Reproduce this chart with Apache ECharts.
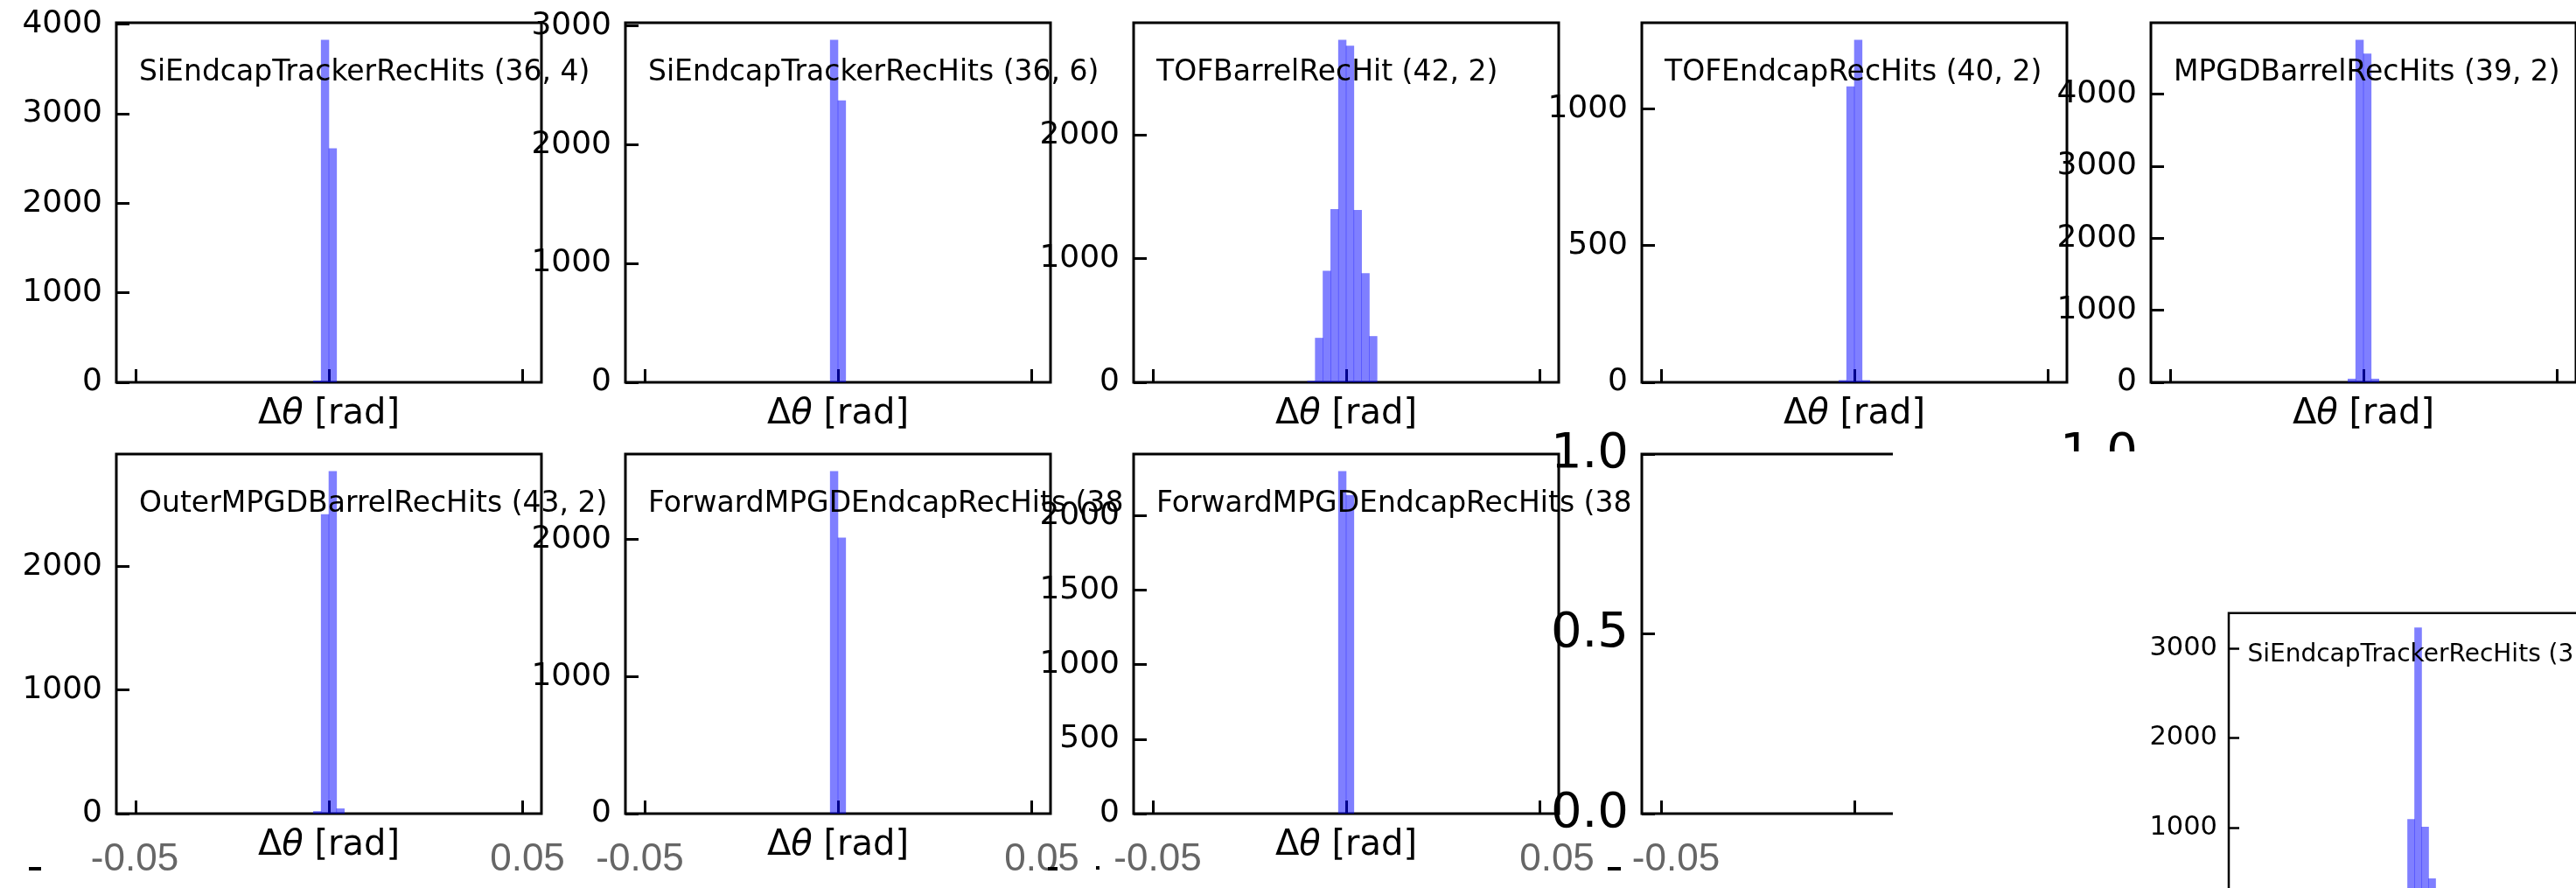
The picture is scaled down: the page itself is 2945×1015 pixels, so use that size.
<!DOCTYPE html>
<html><head><meta charset="utf-8">
<script src="https://cdn.jsdelivr.net/npm/echarts@6/dist/echarts.min.js"></script>
<style>html,body{margin:0;padding:0;background:#fff;} #c{width:2945px;height:1015px;}</style>
</head><body><div id="c"></div>
<script>
// ---------------- DATA ----------------
const BIN_WIDTH = 0.002;                 // histogram bin width [rad]
const X_RANGE = [-0.055, 0.055];          // shared x range
const X_TICKS = [-0.05, 0, 0.05];         // x tick positions
const X_TICK_LABELS = ['-0.05', '0.05'];  // visible (grey) x tick labels
const X_LABEL = '{d|\u0394}{t|\u03b8}{d| [rad]}';

const titles = [
  'SiEndcapTrackerRecHits (36, 4)',
  'SiEndcapTrackerRecHits (36, 6)',
  'TOFBarrelRecHit (42, 2)',
  'TOFEndcapRecHits (40, 2)',
  'MPGDBarrelRecHits (39, 2)',
  'OuterMPGDBarrelRecHits (43, 2)',
  'ForwardMPGDEndcapRecHits (38',
  'ForwardMPGDEndcapRecHits (38',
  'SiEndcapTrackerRecHits (3'
];

// bin left edges and counts per panel
const p1Edges = [-0.004, -0.002, 0.000];
const p1Counts = [20, 3824, 2614];
const p2Edges = [-0.002, 0.000];
const p2Counts = [2881, 2372];
const p3Edges = [-0.010, -0.008, -0.006, -0.004, -0.002, 0.000, 0.002, 0.004, 0.006];
const p3Counts = [12, 360, 903, 1402, 2771, 2724, 1395, 884, 374];
const p4Edges = [-0.004, -0.002, 0.000, 0.002];
const p4Counts = [8, 1082, 1252, 8];
const p5Edges = [-0.004, -0.002, 0.000, 0.002];
const p5Counts = [50, 4753, 4562, 50];
const p6Edges = [-0.004, -0.002, 0.000, 0.002];
const p6Counts = [20, 2422, 2771, 42];
const p7Edges = [-0.002, 0.000];
const p7Counts = [2499, 2015];
const p8Edges = [-0.002, 0.000];
const p8Counts = [2297, 2137];
const insetEdges = [-0.004, -0.002, 0.000, 0.002];
const insetCounts = [1096, 3229, 1010, 435];

// y tick values per panel
const yTicks1 = [0, 1000, 2000, 3000, 4000];
const yTicks2 = [0, 1000, 2000, 3000];
const yTicks3 = [0, 1000, 2000];
const yTicks4 = [0, 500, 1000];
const yTicks5 = [0, 1000, 2000, 3000, 4000];
const yTicks6 = [0, 1000, 2000];
const yTicks7 = [0, 1000, 2000];
const yTicks8 = [0, 500, 1000, 1500, 2000];
const yTicksUnit = [0, 0.5, 1.0];
const yTicksInset = [0, 1000, 2000, 3000];

// ---------------- LAYOUT ----------------
const FONT = 'DejaVu Sans';
const COL_LEFT = [133, 715, 1296, 1877, 2459];
const ROW_TOP = [26, 519];
const PW = 486, PH = 411;

const intFmt = v => String(Math.round(v));
const oneDec = v => v.toFixed(1);

const main = {w: PW, h: PH, bw: 3, tickLen: 15, tickW: 3, labelSize: 36, labelMargin: 16, z: 1,
              titleSize: 33, titleDx: 26, titleDy: 57};
const panels = [
  Object.assign({}, main, {title: titles[0], edges: p1Edges, counts: p1Counts, yTicks: yTicks1, left: COL_LEFT[0], top: ROW_TOP[0], xlabel: true, fmt: intFmt}),
  Object.assign({}, main, {title: titles[1], edges: p2Edges, counts: p2Counts, yTicks: yTicks2, left: COL_LEFT[1], top: ROW_TOP[0], xlabel: true, fmt: intFmt}),
  Object.assign({}, main, {title: titles[2], edges: p3Edges, counts: p3Counts, yTicks: yTicks3, left: COL_LEFT[2], top: ROW_TOP[0], xlabel: true, fmt: intFmt}),
  Object.assign({}, main, {title: titles[3], edges: p4Edges, counts: p4Counts, yTicks: yTicks4, left: COL_LEFT[3], top: ROW_TOP[0], xlabel: true, fmt: intFmt}),
  Object.assign({}, main, {title: titles[4], edges: p5Edges, counts: p5Counts, yTicks: yTicks5, left: COL_LEFT[4], top: ROW_TOP[0], xlabel: true, fmt: intFmt}),
  Object.assign({}, main, {title: titles[5], edges: p6Edges, counts: p6Counts, yTicks: yTicks6, left: COL_LEFT[0], top: ROW_TOP[1], xlabel: true, fmt: intFmt}),
  Object.assign({}, main, {title: titles[6], edges: p7Edges, counts: p7Counts, yTicks: yTicks7, left: COL_LEFT[1], top: ROW_TOP[1], xlabel: true, fmt: intFmt}),
  Object.assign({}, main, {title: titles[7], edges: p8Edges, counts: p8Counts, yTicks: yTicks8, left: COL_LEFT[2], top: ROW_TOP[1], xlabel: true, fmt: intFmt}),
  // empty axes (column 4, row 2)
  Object.assign({}, main, {title: null, edges: [], counts: [], yTicks: yTicksUnit, yMax: 1, left: COL_LEFT[3], top: ROW_TOP[1], xlabel: false, fmt: oneDec, labelSize: 56, labelMargin: 15}),
  // hidden empty axes (column 5, row 2), mostly covered
  Object.assign({}, main, {title: null, edges: [], counts: [], yTicks: yTicksUnit, yMax: 1, left: COL_LEFT[4], top: ROW_TOP[1], xlabel: false, fmt: oneDec, labelSize: 56, labelMargin: 15}),
  // inset (drawn above the white cover)
  {title: titles[8], edges: insetEdges, counts: insetCounts, yTicks: yTicksInset, left: 2548, top: 700.7, w: 441, h: 348,
   bw: 2.5, tickLen: 12, tickW: 2.5, labelSize: 30.5, labelMargin: 13, z: 60, titleSize: 28, titleDx: 21.4, titleDy: 48,
   xlabel: false, fmt: intFmt}
];

function renderBar(params, api) {
  const p0 = api.coord([api.value(0), 0]);
  const p1 = api.coord([api.value(1), api.value(2)]);
  return {
    type: 'rect',
    shape: {x: p0[0] - 0.3, y: p1[1], width: p1[0] - p0[0] + 0.6, height: p0[1] - p1[1]},
    style: {fill: 'rgba(0,0,255,0.5)'}
  };
}

const grids = [], xAxes = [], yAxes = [], series = [], graphics = [];
panels.forEach((p, i) => {
  grids.push({left: p.left, top: p.top, width: p.w, height: p.h, show: true, containLabel: false,
              outerBoundsMode: 'none',
              borderColor: '#000', borderWidth: p.bw, backgroundColor: 'rgba(0,0,0,0)', z: p.z});
  xAxes.push({
    gridIndex: i, type: 'value', min: X_RANGE[0], max: X_RANGE[1], z: p.z, position: 'bottom',
    axisLine: {show: false, onZero: false}, splitLine: {show: false}, axisLabel: {show: false},
    axisTick: {show: true, inside: true, length: p.tickLen, lineStyle: {color: '#000', width: p.tickW}, customValues: X_TICKS},
    name: p.xlabel ? X_LABEL : '', nameLocation: 'middle', nameGap: 17,
    nameTextStyle: {color: '#000', fontSize: 40, fontFamily: FONT,
      rich: {d: {color: '#000', fontSize: 40, fontFamily: FONT},
             t: {color: '#000', fontSize: 40, fontFamily: FONT, fontStyle: 'italic'}}}
  });
  const yMax = p.yMax != null ? p.yMax : Math.max(...p.counts) * 1.05;
  yAxes.push({
    gridIndex: i, type: 'value', min: 0, max: yMax, z: p.z, position: 'left',
    axisLine: {show: false, onZero: false}, splitLine: {show: false},
    axisTick: {show: true, inside: true, length: p.tickLen, lineStyle: {color: '#000', width: p.tickW}, customValues: p.yTicks},
    axisLabel: {show: true, customValues: p.yTicks, formatter: p.fmt, color: '#000',
                fontSize: p.labelSize, fontFamily: FONT, margin: p.labelMargin}
  });
  if (p.counts.length) {
    series.push({
      type: 'custom', xAxisIndex: i, yAxisIndex: i, z: p.z + 1, silent: true, clip: false,
      renderItem: renderBar, encode: {x: [0, 1], y: 2},
      data: p.edges.map((e, k) => [e, e + BIN_WIDTH, p.counts[k]])
    });
  }
  if (p.title) {
    graphics.push({type: 'text', x: p.left + p.titleDx, y: p.top + p.titleDy, z: p.z + 9, silent: true,
      style: {text: p.title, fontSize: p.titleSize, fontFamily: FONT, fill: '#000', align: 'left', verticalAlign: 'middle'}});
  }
});

// white cover hiding the right part of row 2 (under the inset)
graphics.push({type: 'rect', z: 50, silent: true, shape: {x: 2164, y: 516, width: 800, height: 520}, style: {fill: '#fff'}});

// grey tick labels under row 2
const greyPos = [[154, 603], [731.5, 1191], [1323.5, 1780], [1916, null]];
greyPos.forEach(pair => pair.forEach((x, k) => {
  if (x == null) return;
  graphics.push({type: 'text', x: x, y: 983, z: 10, silent: true,
    style: {text: X_TICK_LABELS[k], fontSize: 44, fontFamily: 'Liberation Sans', fill: '#666', align: 'center', verticalAlign: 'middle'}});
}));
// stray dash fragments
[[33, 991, 14], [1198, 991, 11], [1253, 990, 4], [1838, 991, 15]].forEach(d => {
  graphics.push({type: 'rect', z: 10, silent: true, shape: {x: d[0], y: d[1], width: d[2], height: 4}, style: {fill: '#000'}});
});

const chart = echarts.init(document.getElementById('c'), null, {renderer: 'canvas', width: 2945, height: 1015});
chart.setOption({
  animation: false,
  backgroundColor: '#fff',
  grid: grids, xAxis: xAxes, yAxis: yAxes, series: series,
  graphic: {elements: graphics}
});
</script></body></html>
